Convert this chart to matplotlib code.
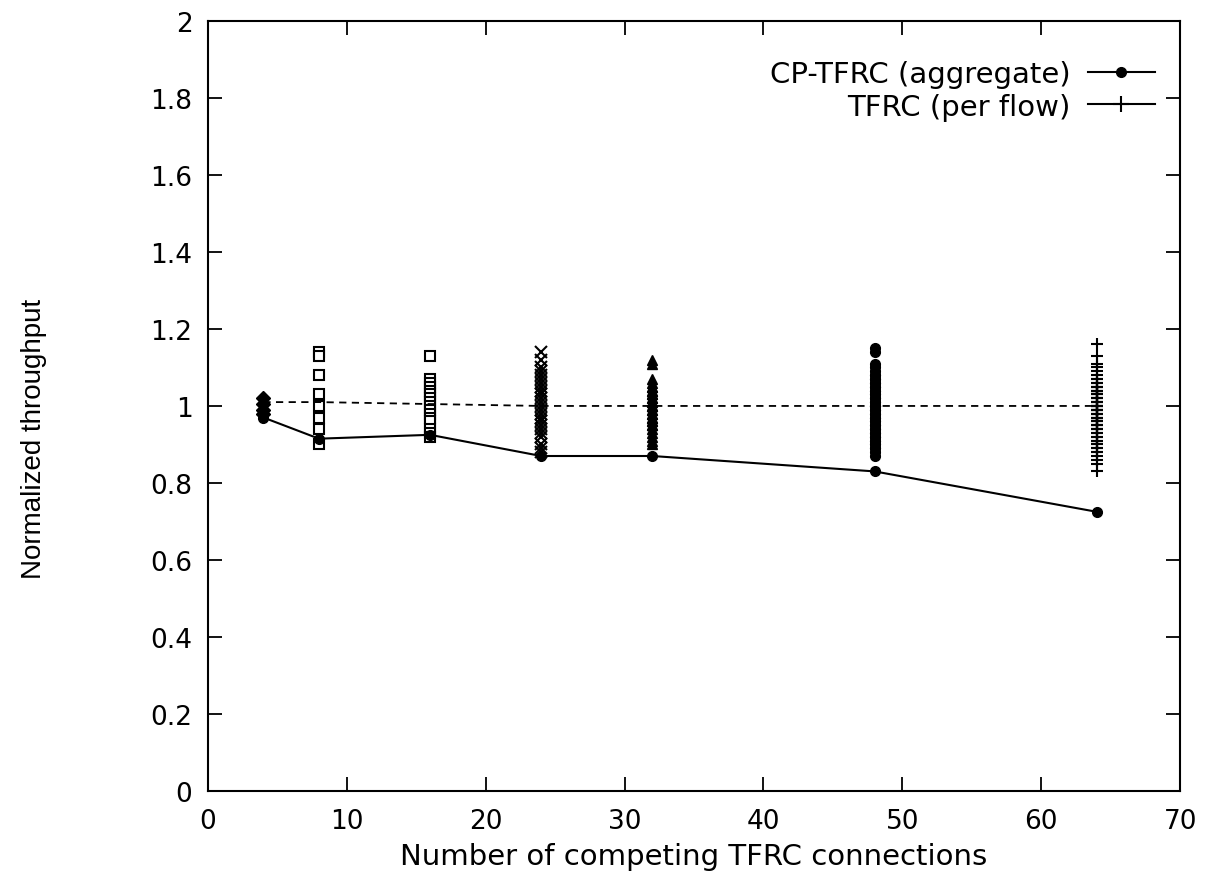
import matplotlib
matplotlib.use('Agg')

import numpy as np
import matplotlib.pyplot as plt

plt.rcParams['font.family'] = ['DejaVu Sans']

# number of competing TFRC connections
n_flows = [4, 8, 16, 24, 32, 48, 64]

# CP-TFRC aggregate (normalized)
cp_aggregate = [0.97, 0.915, 0.925, 0.87, 0.87, 0.83, 0.725]

# mean of the TFRC flows (dashed line)
tfrc_mean = [1.01, 1.01, 1.005, 1.0, 1.0, 1.0, 1.0]

# per flow TFRC throughput
flows_4 = [1.02, 1.005, 0.99, 0.98]
flows_8 = [1.14, 1.13, 1.08, 1.03, 1.0, 0.97, 0.94, 0.90]
flows_16 = [1.13, 1.07, 1.06, 1.05, 1.04, 1.03, 1.02, 1.01,
            1.0, 0.99, 0.98, 0.97, 0.96, 0.94, 0.93, 0.92]
flows_24 = [1.14, 1.12, 1.10, 1.09, 1.08, 1.07, 1.06, 1.05,
            1.04, 1.03, 1.02, 1.01, 1.0, 0.99, 0.98, 0.97,
            0.96, 0.95, 0.94, 0.93, 0.92, 0.90, 0.89, 0.88]
flows_32 = [1.12, 1.11, 1.07, 1.06, 1.05, 1.05, 1.04, 1.04,
            1.03, 1.03, 1.02, 1.02, 1.01, 1.01, 1.0, 1.0,
            1.0, 0.99, 0.99, 0.98, 0.98, 0.97, 0.97, 0.96,
            0.96, 0.95, 0.95, 0.94, 0.93, 0.92, 0.91, 0.90]
flows_48 = [1.15, 1.14, 1.11, 1.10, 1.09, 1.08, 1.08, 1.07,
            1.07, 1.06, 1.06, 1.05, 1.05, 1.04, 1.04, 1.03,
            1.03, 1.02, 1.02, 1.01, 1.01, 1.0, 1.0, 1.0,
            0.99, 0.99, 0.98, 0.98, 0.97, 0.97, 0.96, 0.96,
            0.95, 0.95, 0.94, 0.94, 0.93, 0.93, 0.92, 0.92,
            0.91, 0.91, 0.90, 0.90, 0.89, 0.89, 0.88, 0.87]
flows_64 = [1.16, 1.13, 1.11, 1.10, 1.09, 1.08, 1.07, 1.07,
            1.06, 1.06, 1.05, 1.05, 1.05, 1.04, 1.04, 1.04,
            1.03, 1.03, 1.03, 1.02, 1.02, 1.02, 1.01, 1.01,
            1.01, 1.0, 1.0, 1.0, 1.0, 0.99, 0.99, 0.99,
            0.99, 0.98, 0.98, 0.98, 0.97, 0.97, 0.97, 0.96,
            0.96, 0.96, 0.95, 0.95, 0.95, 0.94, 0.94, 0.94,
            0.93, 0.93, 0.92, 0.92, 0.91, 0.91, 0.90, 0.90,
            0.89, 0.89, 0.88, 0.88, 0.87, 0.86, 0.85, 0.83]

per_flow = [flows_4, flows_8, flows_16, flows_24, flows_32, flows_48, flows_64]
markers = ['D', 's', 's', 'x', '^', 'o', '+']
filled = [True, False, False, True, True, True, True]

fig = plt.figure(figsize=(12.08, 8.78), dpi=100)
ax = fig.add_axes([0.172, 0.098, 0.805, 0.877])

for n, vals, m, f in zip(n_flows, per_flow, markers, filled):
    xs = np.full(len(vals), n)
    if m in ('x', '+'):
        ax.plot(xs, vals, linestyle='none', marker=m, color='black',
                markersize=9, markeredgewidth=1.5)
    elif f:
        ax.plot(xs, vals, linestyle='none', marker=m, color='black',
                markersize=7)
    else:
        ax.plot(xs, vals, linestyle='none', marker=m, color='black',
                markerfacecolor='white', markersize=7, markeredgewidth=1.5)

ax.plot(n_flows, tfrc_mean, color='black', linestyle=(0, (4, 3)), linewidth=1.3)
ax.plot(n_flows, cp_aggregate, color='black', linewidth=1.5, marker='o',
        markersize=7, label='CP-TFRC (aggregate)')
ax.plot([], [], color='black', linewidth=1.5, marker='+', markersize=12,
        markeredgewidth=1.5, label='TFRC (per flow)')

ax.set_xlim(0, 70)
ax.set_ylim(0, 2)
ax.set_xticks(np.arange(0, 71, 10))
ax.set_yticks(np.arange(0, 2.01, 0.2))
ax.set_yticklabels(['0', '0.2', '0.4', '0.6', '0.8', '1', '1.2', '1.4',
                    '1.6', '1.8', '2'])
ax.tick_params(direction='in', top=True, right=True, length=10, width=1.3,
               labelsize=19)
ax.tick_params(axis='x', pad=12)
ax.tick_params(axis='y', pad=11)
for s in ax.spines.values():
    s.set_linewidth(1.5)

ax.set_xlabel('Number of competing TFRC connections', fontsize=21, labelpad=6)
ax.set_ylabel('Normalized throughput', fontsize=20, family='Liberation Sans')
ax.yaxis.set_label_coords(-0.165, 0.458)

ax.legend(loc='upper right', bbox_to_anchor=(0.974, 0.949), frameon=False,
          markerfirst=False, fontsize=21, handlelength=2.3,
          handletextpad=0.6, borderpad=0, borderaxespad=0,
          labelspacing=0.15)

fig.savefig('out.png', dpi=100)
